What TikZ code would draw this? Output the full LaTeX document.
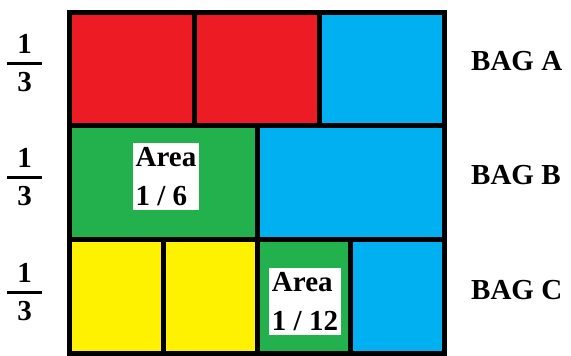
\documentclass[tikz,border=0pt]{standalone}
\usepackage{fontspec}
\setmainfont{Liberation Serif}[BoldFont={Liberation Serif Bold}]
\usetikzlibrary{positioning}

\definecolor{bagred}{RGB}{237,28,36}
\definecolor{baggreen}{RGB}{34,177,76}
\definecolor{bagblue}{RGB}{0,176,240}
\definecolor{bagyellow}{RGB}{255,242,0}

\begin{document}
\begin{tikzpicture}[x=1pt, y=-1pt, font=\rmfamily\bfseries\fontsize{29}{39}\selectfont]
  % Styles
  \tikzset{
    grid/.style={draw=black, line width=5pt},
    areabox/.style={fill=white, align=left, inner xsep=3pt, inner ysep=4pt},
    baglabel/.style={anchor=west, inner sep=0pt},
    digit/.style={inner sep=0pt},
    bar/.style={line width=3.5pt}
  }
  \useasboundingbox[fill=white] (0,0) rectangle (571,356);

  % Cells: bag A (thirds)
  \fill[bagred] (69.5,12) rectangle (319.5,125.5);
  \fill[bagblue] (319.5,12) rectangle (444.5,125.5);
  % Cells: bag B (halves)
  \fill[baggreen] (69.5,125.5) rectangle (257,239.5);
  \fill[bagblue] (257,125.5) rectangle (444.5,239.5);
  % Cells: bag C (quarters)
  \fill[bagyellow] (69.5,239.5) rectangle (257,353);
  \fill[baggreen] (257,239.5) rectangle (350.75,353);
  \fill[bagblue] (350.75,239.5) rectangle (444.5,353);

  % Grid lines
  \draw[grid] (69.5,12) rectangle (444.5,353);
  \draw[grid] (69.5,125.5) -- (444.5,125.5);
  \draw[grid] (69.5,239.5) -- (444.5,239.5);
  \draw[grid] (194.5,12) -- (194.5,125.5);
  \draw[grid] (319.5,12) -- (319.5,125.5);
  \draw[grid] (257,125.5) -- (257,239.5);
  \draw[grid] (163.25,239.5) -- (163.25,353);
  \draw[grid] (257,239.5) -- (257,353);
  \draw[grid] (350.75,239.5) -- (350.75,353);

  % Fractions on the left
  \foreach \r/\y in {a/63.5, b/177.5, c/292.5} {
    \node[digit] (num\r) at (24.5,\y-20) {1};
    \node[digit] (den\r) at (24.5,\y+18.5) {3};
    \draw[bar] (7,\y) -- (42,\y);
  }

  % Bag labels
  \node[baglabel] (baga) at (471,61) {BAG A};
  \node[baglabel] (bagb) at (471,175) {BAG B};
  \node[baglabel] (bagc) at (471,290) {BAG C};

  % Area labels
  \node[areabox] (area6) at (166,176.5) {Area\\1 / 6};
  \node[areabox] (area12) at (305,301.5) {Area\\1 / 12};
\end{tikzpicture}
\end{document}
